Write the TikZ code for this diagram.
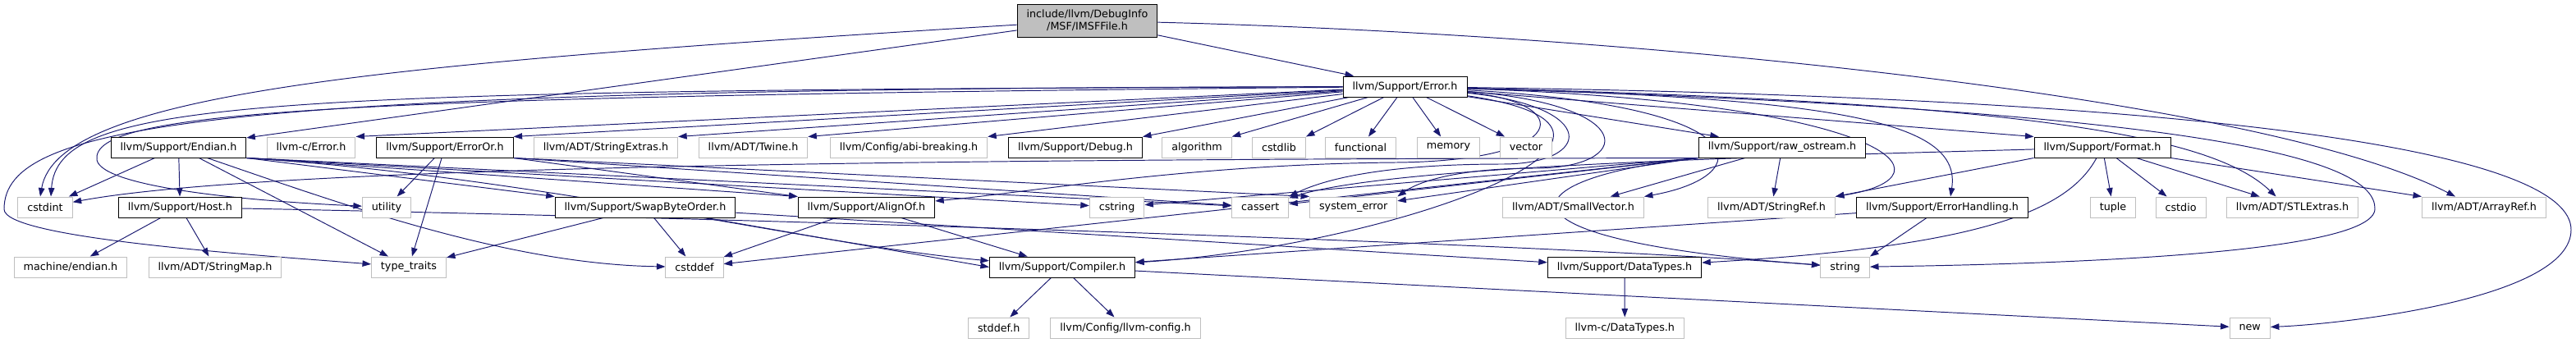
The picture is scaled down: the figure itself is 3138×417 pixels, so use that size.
\documentclass[tikz,border=0pt]{standalone}
\usepackage{fontspec}
\setmainfont{DejaVu Sans}
\usetikzlibrary{arrows.meta}
\definecolor{edgenavy}{HTML}{191970}
\definecolor{boxgray}{HTML}{BFBFBF}
\pgfdeclarelayer{edges}
\pgfsetlayers{edges,main}

\begin{document}
\begin{tikzpicture}[
  x=0.2mm, y=-0.2mm,
  >={Triangle[length=2.1mm,width=1.5mm]},
  line width=0.55pt,
  incbox/.style={rectangle, minimum height=5mm, inner xsep=2.3mm, inner ysep=0pt, font=\fontsize{7.25}{8.6}\selectfont},
  incroot/.style={incbox, draw=black, fill=boxgray, minimum height=8mm, align=center},
  incnode/.style={incbox, draw=black, fill=white},
  incext/.style={incbox, draw=boxgray, fill=white},
  incedge/.style={->, draw=edgenavy, line width=0.55pt}
]
  \useasboundingbox (0,0) rectangle (3138,417);

  \node[incroot] (root) at (1324.5,25) {include/llvm/DebugInfo\\/MSF/IMSFFile.h};
  \node[incnode] (error) at (1711.5,105.5) {llvm/Support/Error.h};

  % second row
  \node[incnode] (endian) at (217.5,179.5) {llvm/Support/Endian.h};
  \node[incext] (cerror) at (379,179.5) {llvm-c/Error.h};
  \node[incnode] (erroror) at (542,179.5) {llvm/Support/ErrorOr.h};
  \node[incext] (strext) at (738,179.5) {llvm/ADT/StringExtras.h};
  \node[incext] (twine) at (917.5,179.5) {llvm/ADT/Twine.h};
  \node[incext] (abibrk) at (1107,179.5) {llvm/Config/abi-breaking.h};
  \node[incnode] (debug) at (1310,179.5) {llvm/Support/Debug.h};
  \node[incext] (algorithm) at (1458,179.5) {algorithm};
  \node[incext] (cstdlib) at (1558,179.5) {cstdlib};
  \node[incext] (functional) at (1657.5,179.5) {functional};
  \node[incext] (memory) at (1764.5,179.5) {memory};
  \node[incext] (vector) at (1859,179.5) {vector};
  \node[incnode] (rawos) at (2171,179.5) {llvm/Support/raw\_ostream.h};
  \node[incnode] (format) at (2561,179.5) {llvm/Support/Format.h};

  % third row
  \node[incext] (cstdint) at (55,252.5) {cstdint};
  \node[incnode] (host) at (219.4,252.5) {llvm/Support/Host.h};
  \node[incext] (utility) at (471,252.5) {utility};
  \node[incnode] (swap) at (786,252.5) {llvm/Support/SwapByteOrder.h};
  \node[incnode] (alignof) at (1055.4,252.5) {llvm/Support/AlignOf.h};
  \node[incext] (cstring) at (1360.6,252.5) {cstring};
  \node[incext] (cassert) at (1535.3,252.5) {cassert};
  \node[incext] (syserr) at (1648.7,252.5) {system\_error};
  \node[incext] (smallvec) at (1916.5,252.5) {llvm/ADT/SmallVector.h};
  \node[incext] (strref) at (2158,252.5) {llvm/ADT/StringRef.h};
  \node[incnode] (errhand) at (2366,252.5) {llvm/Support/ErrorHandling.h};
  \node[incext] (tuple) at (2574,252.5) {tuple};
  \node[incext] (cstdio) at (2656.6,252.5) {cstdio};
  \node[incext] (stlext) at (2792.6,252.5) {llvm/ADT/STLExtras.h};
  \node[incext] (arrayref) at (3026,252.5) {llvm/ADT/ArrayRef.h};

  % fourth row
  \node[incext] (mendian) at (86,325.5) {machine/endian.h};
  \node[incext] (strmap) at (262,325.5) {llvm/ADT/StringMap.h};
  \node[incext] (typetr) at (498,325.5) {type\_traits};
  \node[incext] (cstddef) at (846,325.5) {cstddef};
  \node[incnode] (compiler) at (1294,325.5) {llvm/Support/Compiler.h};
  \node[incnode] (datatypes) at (1979,325.5) {llvm/Support/DataTypes.h};
  \node[incext] (string) at (2247.7,325.5) {string};

  % last row
  \node[incext] (stddef) at (1216.7,399.5) {stddef.h};
  \node[incext] (llvmcfg) at (1371,399.5) {llvm/Config/llvm-config.h};
  \node[incext] (cdatatypes) at (1979.3,399.5) {llvm-c/DataTypes.h};
  \node[incext] (new) at (2740.7,399.5) {new};

  \begin{pgfonlayer}{edges}
  % IMSFFile.h
  \draw[incedge] (root) -- (error);
  \draw[incedge] (root) -- (endian);
  \draw[incedge] (root) .. controls (450,78) and (70,115) .. ([xshift=-1.2mm]cstdint.north);
  \draw[incedge] (root) .. controls (2000,42) and (2760,120) .. ([xshift=-7mm]arrayref.north);

  % Error.h
  \draw[incedge] (error) -- (cerror.north east);
  \draw[incedge] (error) -- (erroror.north east);
  \draw[incedge] (error) -- (strext.north east);
  \draw[incedge] (error) -- (twine.north east);
  \draw[incedge] (error) -- (abibrk.north east);
  \draw[incedge] (error) -- (debug.north east);
  \draw[incedge] (error) -- (algorithm.north east);
  \draw[incedge] (error) -- (cstdlib.north east);
  \draw[incedge] (error) -- (functional);
  \draw[incedge] (error) -- (memory);
  \draw[incedge] (error) -- (vector);
  \draw[incedge] (error) -- ([xshift=5mm]rawos.north west);
  \draw[incedge] (error) -- (format.north west);
  \draw[incedge] (error) .. controls (300,110) and (70,122) .. ([xshift=1.4mm]cstdint.north);
  \draw[incedge] (error) .. controls (400,118) and (110,135) .. (118,195) .. controls (125,228) and (300,245) .. (utility);
  \draw[incedge] (error) .. controls (250,108) and (5,150) .. (5,255) .. controls (5,290) and (300,310) .. (typetr);
  \draw[incedge] (error) .. controls (1950,130) and (1940,200) .. (1830,200) .. controls (1700,200) and (1620,215) .. (cassert.north east);
  \draw[incedge] (error) .. controls (2000,128) and (1990,205) .. (1870,205) .. controls (1780,205) and (1730,220) .. (syserr.north east);
  \draw[incedge] (error) .. controls (1920,125) and (1915,196) .. (1700,198) .. controls (1450,200) and (1250,235) .. (alignof);
  \draw[incedge] (error) .. controls (2150,130) and (2140,215) .. (smallvec.north east);
  \draw[incedge] (error) .. controls (2300,125) and (2390,215) .. (strref.north east);
  \draw[incedge] (error) .. controls (2250,120) and (2390,150) .. ([xshift=2mm]errhand.north);
  \draw[incedge] (error) .. controls (2500,125) and (2700,170) .. ([xshift=-4mm]stlext.north);
  \draw[incedge] (error) .. controls (2080,160) and (1700,300) .. (compiler);
  \draw[incedge] (error) .. controls (2700,135) and (2895,195) .. (2893,255) .. controls (2890,310) and (2500,322) .. (string);
  \draw[incedge] (error) .. controls (2750,120) and (3132,190) .. (3132,280) .. controls (3132,365) and (2850,395) .. (new);

  % Endian.h
  \draw[incedge] (endian) -- (host);
  \draw[incedge] (endian) -- (cstdint);
  \draw[incedge] (endian) -- (typetr);
  \draw[incedge] ([xshift=7mm]endian.south) .. controls (420,250) and (620,322) .. (cstddef);
  \draw[incedge] (endian.south east) -- (swap.north west);
  \draw[incedge] (endian.south east) -- (alignof.north west);
  \draw[incedge] (endian.south east) .. controls (650,215) and (1000,300) .. (compiler);
  \draw[incedge] (endian.south east) -- (cstring);
  \draw[incedge] (endian.south east) -- (cassert);

  % ErrorOr.h
  \draw[incedge] (erroror) -- (utility);
  \draw[incedge] (erroror) -- (typetr);
  \draw[incedge] (erroror.south east) -- (alignof.north west);
  \draw[incedge] (erroror.south east) -- (cassert);
  \draw[incedge] (erroror.south east) -- (syserr.north west);

  % Host.h
  \draw[incedge] (host) -- (mendian);
  \draw[incedge] (host) -- (strmap);
  \draw[incedge] (host) .. controls (1000,268) and (1900,298) .. (string);

  % SwapByteOrder.h
  \draw[incedge] (swap) -- (typetr);
  \draw[incedge] (swap) -- (cstddef);
  \draw[incedge] (swap) -- (compiler.west);
  \draw[incedge] (swap) -- (datatypes);

  % AlignOf.h
  \draw[incedge] (alignof) -- (cstddef);
  \draw[incedge] (alignof) -- (compiler);

  % Compiler.h
  \draw[incedge] (compiler) -- (stddef);
  \draw[incedge] (compiler) -- (llvmcfg);
  \draw[incedge] (compiler) -- (new);

  % raw_ostream.h
  \draw[incedge] (rawos) -- (smallvec);
  \draw[incedge] (rawos) -- (strref);
  \draw[incedge] (rawos.south west) -- (syserr);
  \draw[incedge] (rawos.south west) -- (cassert);
  \draw[incedge] (rawos.south west) -- (cstring);
  \draw[incedge] (rawos.south west) -- (cstddef);
  \draw[incedge] (rawos.south west) .. controls (1300,194) and (350,198) .. (cstdint);
  \draw[incedge] (rawos.south west) .. controls (1850,215) and (1780,290) .. (string);

  % Format.h
  \draw[incedge] (format) -- (tuple);
  \draw[incedge] (format) -- (cstdio);
  \draw[incedge] (format) -- ([xshift=-8mm]stlext.north);
  \draw[incedge] (format.south east) -- (arrayref.north west);
  \draw[incedge] (format.south west) -- (strref.north east);
  \draw[incedge] (format) .. controls (2200,190) and (1700,200) .. (cassert);
  \draw[incedge] (format) .. controls (2520,255) and (2420,300) .. (datatypes);

  % ErrorHandling.h, DataTypes.h
  \draw[incedge] (errhand) -- (string.north east);
  \draw[incedge] (errhand) -- (compiler);
  \draw[incedge] (datatypes) -- (cdatatypes);
  \end{pgfonlayer}
\end{tikzpicture}
\end{document}
